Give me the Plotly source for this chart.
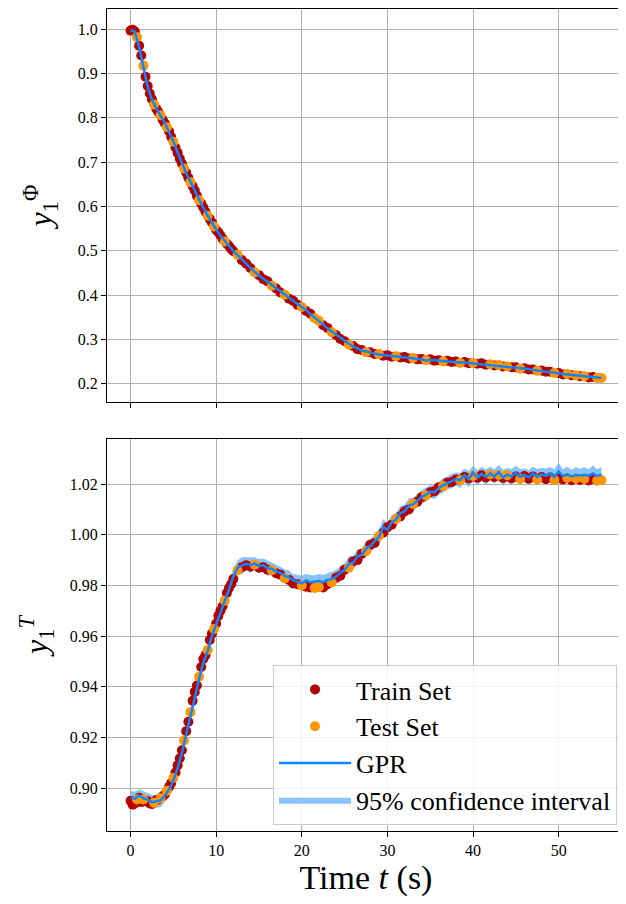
import plotly.graph_objects as go

# ---------------- data ----------------
obs_time = [0.0, 0.25, 0.5, 0.75, 1.0, 1.25, 1.5, 1.75, 2.0, 2.25, 2.5, 2.75, 3.0, 3.25, 3.5, 3.75,
            4.0, 4.25, 4.5, 4.75, 5.0, 5.25, 5.5, 5.75, 6.0, 6.25, 6.5, 6.75, 7.0, 7.25, 7.5, 7.75,
            8.0, 8.25, 8.5, 8.75, 9.0, 9.25, 9.5, 9.75, 10.0, 10.25, 10.5, 10.75, 11.0, 11.25, 11.5, 11.75,
            12.0, 12.5, 13.0, 13.5, 14.0, 14.5, 15.0, 15.5, 16.0, 16.5, 17.0, 17.5, 18.0, 18.5, 19.0, 19.5,
            20.0, 20.5, 21.0, 21.5, 22.0, 22.5, 23.0, 23.5, 24.0, 24.5, 25.0, 25.5, 26.0, 26.5, 27.0, 27.5, 28.0, 28.5, 29.0, 29.5,
            30.0, 30.5, 31.0, 31.5, 32.0, 32.5, 33.0, 33.5, 34.0, 34.5, 35.0, 35.5, 36.0, 36.5, 37.0, 37.5, 38.0, 38.5, 39.0, 39.5,
            40.0, 40.5, 41.0, 41.5, 42.0, 42.5, 43.0, 43.5, 44.0, 44.5, 45.0, 45.5, 46.0, 46.5, 47.0, 47.5, 48.0, 48.5, 49.0, 49.5,
            50.0, 50.5, 51.0, 51.5, 52.0, 52.5, 53.0, 53.5, 54.0, 54.5, 55.0]

phi_obs = [0.997, 0.999, 0.995, 0.982, 0.963, 0.941, 0.918, 0.893, 0.872, 0.855, 0.842, 0.830, 0.821, 0.813, 0.806, 0.796,
           0.788, 0.779, 0.770, 0.757, 0.746, 0.733, 0.721, 0.708, 0.697, 0.686, 0.676, 0.665, 0.655, 0.646, 0.636, 0.624,
           0.614, 0.607, 0.598, 0.588, 0.579, 0.572, 0.564, 0.555, 0.547, 0.542, 0.535, 0.527, 0.521, 0.516, 0.511, 0.504,
           0.499, 0.491, 0.479, 0.471, 0.461, 0.451, 0.445, 0.436, 0.431, 0.421, 0.415, 0.406, 0.401, 0.392, 0.387, 0.378,
           0.373, 0.364, 0.358, 0.348, 0.342, 0.332, 0.326, 0.316, 0.310, 0.301, 0.296, 0.288, 0.285, 0.278, 0.276, 0.271, 0.271, 0.267, 0.267, 0.263,
           0.264, 0.261, 0.262, 0.259, 0.260, 0.257, 0.258, 0.255, 0.256, 0.253, 0.255, 0.252, 0.253, 0.250, 0.252, 0.249, 0.250, 0.247, 0.249, 0.246,
           0.247, 0.245, 0.246, 0.243, 0.244, 0.241, 0.242, 0.239, 0.239, 0.237, 0.237, 0.234, 0.235, 0.232, 0.232, 0.229, 0.230, 0.227, 0.227, 0.224,
           0.224, 0.221, 0.222, 0.219, 0.219, 0.217, 0.217, 0.214, 0.215, 0.213, 0.213]

T_obs = [0.8950, 0.8935, 0.8940, 0.8955, 0.8962, 0.8945, 0.8955, 0.8950, 0.8948, 0.8940, 0.8938, 0.8942, 0.8952, 0.8955, 0.8960, 0.8968,
         0.8975, 0.8990, 0.9005, 0.9020, 0.9040, 0.9062, 0.9090, 0.9118, 0.9150, 0.9188, 0.9225, 0.9262, 0.9300, 0.9345, 0.9380, 0.9405,
         0.9440, 0.9478, 0.9510, 0.9525, 0.9545, 0.9585, 0.9610, 0.9628, 0.9650, 0.9680, 0.9700, 0.9718, 0.9740, 0.9770, 0.9790, 0.9805,
         0.9825, 0.9860, 0.9872, 0.9880, 0.9875, 0.9882, 0.9870, 0.9872, 0.9862, 0.9860, 0.9848, 0.9842, 0.9828, 0.9822, 0.9808, 0.9805,
         0.9800, 0.9795, 0.9792, 0.9790, 0.9793, 0.9792, 0.9805, 0.9812, 0.9830, 0.9838, 0.9862, 0.9870, 0.9895, 0.9900, 0.9925, 0.9935, 0.9960, 0.9968, 0.9995, 1.0008,
         1.0030, 1.0040, 1.0062, 1.0072, 1.0092, 1.0100, 1.0122, 1.0130, 1.0148, 1.0155, 1.0168, 1.0172, 1.0188, 1.0192, 1.0205, 1.0208, 1.0218, 1.0215, 1.0228, 1.0222,
         1.0232, 1.0225, 1.0235, 1.0226, 1.0238, 1.0228, 1.0236, 1.0224, 1.0235, 1.0222, 1.0230, 1.0220, 1.0232, 1.0221, 1.0230, 1.0218, 1.0228, 1.0219, 1.0226, 1.0216,
         1.0225, 1.0218, 1.0224, 1.0215, 1.0222, 1.0216, 1.0221, 1.0214, 1.0220, 1.0213, 1.0216]

test_times = [0.75, 1.5, 2.75, 3.5, 4.25, 5.0, 6.25, 7.0, 8.0, 9.0, 9.75, 11.0, 12.5, 14.5, 16.5, 18.0, 20.0,
              21.5, 22.0, 23.5, 25.5, 27.5, 29.0, 31.0, 33.0, 34.5, 36.5, 38.5, 40.0, 42.0, 43.0, 44.0, 45.5,
              47.5, 49.5, 51.0, 52.0, 53.0, 54.5, 55.0]

gpr_time = [0.0, 0.5, 1.0, 1.5, 2.0, 2.5, 3.0, 3.5, 4.0, 4.5, 5.0, 5.5, 6.0, 6.5, 7.0, 7.5, 8.0, 8.5, 9.0, 9.5,
            10.0, 10.5, 11.0, 11.5, 12.0, 12.5, 13.0, 13.5, 14.0, 14.5, 15.0, 15.5, 16.0, 16.5, 17.0, 17.5, 18.0, 18.5, 19.0, 19.5,
            20.0, 20.5, 21.0, 21.5, 22.0, 22.5, 23.0, 23.5, 24.0, 24.5, 25.0, 25.5, 26.0, 26.5, 27.0, 27.5, 28.0, 28.5, 29.0, 29.5,
            30.0, 30.5, 31.0, 31.5, 32.0, 32.5, 33.0, 33.5, 34.0, 34.5, 35.0, 35.5, 36.0, 36.5, 37.0, 37.5, 38.0, 38.5, 39.0, 39.5,
            40.0, 40.5, 41.0, 41.5, 42.0, 42.5, 43.0, 43.5, 44.0, 44.5, 45.0, 45.5, 46.0, 46.5, 47.0, 47.5, 48.0, 48.5, 49.0, 49.5,
            50.0, 50.5, 51.0, 51.5, 52.0, 52.5, 53.0, 53.5, 54.0, 54.5, 55.0]

phi_gpr = [0.998, 0.994, 0.960, 0.915, 0.870, 0.841, 0.822, 0.805, 0.789, 0.769, 0.747, 0.722, 0.698, 0.675, 0.656, 0.635, 0.615, 0.597, 0.580, 0.563,
           0.548, 0.534, 0.522, 0.510, 0.500, 0.490, 0.480, 0.470, 0.462, 0.452, 0.444, 0.437, 0.430, 0.422, 0.414, 0.407, 0.400, 0.393, 0.386, 0.379,
           0.372, 0.366, 0.357, 0.350, 0.341, 0.334, 0.325, 0.318, 0.309, 0.302, 0.295, 0.290, 0.284, 0.280, 0.275, 0.273, 0.270, 0.268, 0.266, 0.265,
           0.263, 0.262, 0.261, 0.260, 0.259, 0.258, 0.257, 0.256, 0.255, 0.252, 0.254, 0.253, 0.252, 0.251, 0.251, 0.250, 0.249, 0.248, 0.248, 0.247,
           0.246, 0.246, 0.245, 0.244, 0.243, 0.242, 0.241, 0.240, 0.238, 0.238, 0.236, 0.235, 0.234, 0.233, 0.231, 0.230, 0.229, 0.228, 0.226, 0.225,
           0.223, 0.222, 0.221, 0.220, 0.218, 0.218, 0.216, 0.215, 0.214, 0.214, 0.213]

phi_ci = [0.004, 0.004, 0.004, 0.004, 0.004, 0.004, 0.004, 0.004, 0.004, 0.004, 0.004, 0.004, 0.004, 0.004, 0.004, 0.004, 0.004, 0.004, 0.004, 0.004,
          0.004, 0.005, 0.004, 0.004, 0.005, 0.004, 0.004, 0.005, 0.004, 0.004, 0.005, 0.004, 0.005, 0.004, 0.005, 0.004, 0.005, 0.005, 0.004, 0.005,
          0.006, 0.005, 0.005, 0.006, 0.005, 0.006, 0.005, 0.006, 0.005, 0.006, 0.005, 0.006, 0.005, 0.006, 0.005, 0.006, 0.005, 0.007, 0.005, 0.006,
          0.006, 0.005, 0.006, 0.005, 0.008, 0.005, 0.006, 0.005, 0.006, 0.009, 0.006, 0.005, 0.006, 0.005, 0.006, 0.005, 0.006, 0.005, 0.006, 0.005,
          0.006, 0.005, 0.006, 0.005, 0.006, 0.005, 0.006, 0.005, 0.007, 0.005, 0.006, 0.005, 0.006, 0.005, 0.006, 0.005, 0.007, 0.005, 0.006, 0.005,
          0.006, 0.005, 0.006, 0.005, 0.006, 0.005, 0.006, 0.005, 0.007, 0.005, 0.005]

T_gpr = [0.8965, 0.8958, 0.8972, 0.8960, 0.8955, 0.8945, 0.8948, 0.8952, 0.8970, 0.8995, 0.9030, 0.9080, 0.9140, 0.9215, 0.9290, 0.9365, 0.9430, 0.9495, 0.9540, 0.9600,
         0.9645, 0.9690, 0.9735, 0.9785, 0.9835, 0.9870, 0.9878, 0.9885, 0.9880, 0.9886, 0.9876, 0.9880, 0.9868, 0.9866, 0.9855, 0.9850, 0.9838, 0.9832, 0.9820, 0.9815,
         0.9808, 0.9820, 0.9812, 0.9815, 0.9818, 0.9812, 0.9822, 0.9825, 0.9835, 0.9850, 0.9862, 0.9885, 0.9890, 0.9915, 0.9920, 0.9945, 0.9955, 0.9975, 0.9990, 1.0030,
         1.0020, 1.0050, 1.0060, 1.0085, 1.0092, 1.0115, 1.0120, 1.0135, 1.0150, 1.0158, 1.0170, 1.0168, 1.0185, 1.0195, 1.0205, 1.0212, 1.0220, 1.0215, 1.0235, 1.0220,
         1.0245, 1.0225, 1.0240, 1.0228, 1.0242, 1.0230, 1.0248, 1.0225, 1.0238, 1.0230, 1.0245, 1.0228, 1.0236, 1.0226, 1.0242, 1.0228, 1.0238, 1.0232, 1.0240, 1.0228,
         1.0250, 1.0232, 1.0238, 1.0230, 1.0236, 1.0234, 1.0236, 1.0233, 1.0242, 1.0232, 1.0238]

T_ci = [0.0025, 0.0028, 0.0024, 0.0030, 0.0026, 0.0029, 0.0025, 0.0027, 0.0024, 0.0026, 0.0023, 0.0025, 0.0024, 0.0026, 0.0023, 0.0025, 0.0024, 0.0026, 0.0023, 0.0025,
        0.0024, 0.0026, 0.0023, 0.0025, 0.0030, 0.0028, 0.0033, 0.0026, 0.0030, 0.0025, 0.0028, 0.0026, 0.0030, 0.0025, 0.0027, 0.0024, 0.0026, 0.0028, 0.0025, 0.0027,
        0.0030, 0.0026, 0.0028, 0.0025, 0.0027, 0.0029, 0.0025, 0.0030, 0.0026, 0.0028, 0.0025, 0.0030, 0.0026, 0.0028, 0.0025, 0.0030, 0.0027, 0.0025, 0.0029, 0.0032,
        0.0026, 0.0028, 0.0025, 0.0029, 0.0026, 0.0028, 0.0025, 0.0027, 0.0026, 0.0028, 0.0025, 0.0027, 0.0026, 0.0029, 0.0025, 0.0028, 0.0026, 0.0030, 0.0027, 0.0032,
        0.0026, 0.0030, 0.0027, 0.0031, 0.0026, 0.0029, 0.0027, 0.0032, 0.0026, 0.0030, 0.0027, 0.0031, 0.0026, 0.0029, 0.0027, 0.0032, 0.0026, 0.0030, 0.0027, 0.0031,
        0.0033, 0.0027, 0.0030, 0.0026, 0.0031, 0.0027, 0.0030, 0.0026, 0.0031, 0.0027, 0.0029]

x_ticks = [0, 10, 20, 30, 40, 50]
phi_ticks = [0.2, 0.3, 0.4, 0.5, 0.6, 0.7, 0.8, 0.9, 1.0]
T_ticks = [0.90, 0.92, 0.94, 0.96, 0.98, 1.00, 1.02]

# ---------------- styles ----------------
C_TRAIN = "#b50000"
C_TEST = "#ff9600"
C_GPR = "#0d86ff"
C_CI = "rgba(90,170,255,0.72)"
FONT = "Liberation Serif"

test_set = set(test_times)
train_i = [i for i, t in enumerate(obs_time) if t not in test_set]
test_i = [i for i, t in enumerate(obs_time) if t in test_set]

fig = go.Figure()

panels = [
    ("x", "y", phi_obs, phi_gpr, phi_ci, False),
    ("x2", "y2", T_obs, T_gpr, T_ci, True),
]
for xa, ya, obs, gpr, ci, leg in panels:
    upper = [m + h for m, h in zip(gpr, ci)]
    lower = [m - h for m, h in zip(gpr, ci)]
    fig.add_trace(go.Scatter(x=gpr_time, y=upper, mode="lines", line=dict(width=0),
                             hoverinfo="skip", showlegend=False, xaxis=xa, yaxis=ya))
    fig.add_trace(go.Scatter(x=gpr_time, y=lower, mode="lines", line=dict(width=0),
                             fill="tonexty", fillcolor=C_CI, name="95% confidence interval",
                             legendrank=4, showlegend=leg, xaxis=xa, yaxis=ya))
    fig.add_trace(go.Scatter(x=[obs_time[i] for i in train_i], y=[obs[i] for i in train_i],
                             mode="markers", marker=dict(color=C_TRAIN, size=10),
                             name="Train Set", legendrank=1, showlegend=leg, xaxis=xa, yaxis=ya))
    fig.add_trace(go.Scatter(x=[obs_time[i] for i in test_i], y=[obs[i] for i in test_i],
                             mode="markers", marker=dict(color=C_TEST, size=10),
                             name="Test Set", legendrank=2, showlegend=leg, xaxis=xa, yaxis=ya))
    fig.add_trace(go.Scatter(x=gpr_time, y=gpr, mode="lines", line=dict(color=C_GPR, width=2.5),
                             name="GPR", legendrank=3, showlegend=leg, xaxis=xa, yaxis=ya))

axis_common = dict(showline=True, linecolor="black", linewidth=1.2, mirror=True,
                   ticks="outside", ticklen=5, tickwidth=1.2, tickcolor="black",
                   showgrid=True, gridcolor="#b0b0b0", gridwidth=1, zeroline=False,
                   automargin=False,
                   tickfont=dict(family=FONT, size=16, color="black"))

# the page body adds an 8 px offset, so the figure is 8 px smaller on each axis
fig.update_layout(
    width=618, height=896,
    margin=dict(l=99, r=1, t=1, b=73),
    plot_bgcolor="white", paper_bgcolor="white",
    font=dict(family=FONT, color="black"),
    xaxis=dict(domain=[0, 1], anchor="y", range=[-2.75, 57.75], tickvals=x_ticks,
               showticklabels=False, **axis_common),
    yaxis=dict(domain=[0.5219, 1], anchor="x", range=[0.1587, 1.0458], tickvals=phi_ticks,
               ticktext=[f"{v:.1f}" for v in phi_ticks],
               title=dict(text="<i>y</i><sub>1</sub><sup>Φ</sup>", font=dict(family=FONT, size=32), standoff=16),
               **axis_common),
    xaxis2=dict(domain=[0, 1], anchor="y2", range=[-2.75, 57.75], tickvals=x_ticks,
                title=dict(text="Time <i>t</i> (s)", font=dict(family=FONT, size=34), standoff=4),
                **axis_common),
    yaxis2=dict(domain=[0, 0.4769], anchor="x2", range=[0.8831, 1.0378], tickvals=T_ticks,
                ticktext=[f"{v:.2f}" for v in T_ticks],
                title=dict(text="<i>y</i><sub>1</sub><sup><i>T</i></sup>", font=dict(family=FONT, size=32), standoff=12),
                **axis_common),
    legend=dict(x=0.9846, y=0.0073, xanchor="right", yanchor="bottom", traceorder="normal",
                bgcolor="rgba(255,255,255,0.85)", bordercolor="#cccccc", borderwidth=1,
                font=dict(family=FONT, size=26, color="black"), itemwidth=72,
                tracegroupgap=0),
)

fig.write_html("out.html")
